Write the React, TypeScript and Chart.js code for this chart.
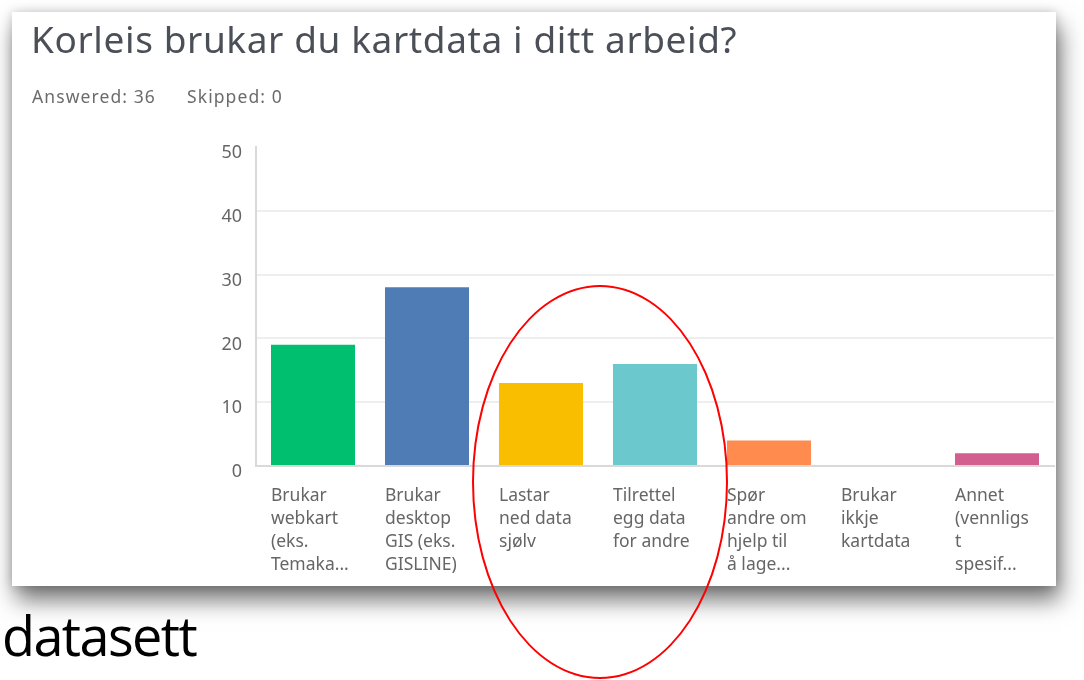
import React, { useEffect, useRef } from "react";
import { Chart, registerables } from "chart.js";

Chart.register(...registerables);

const categories: string[][] = [
  ["Brukar", "webkart", "(eks.", "Temaka..."],
  ["Brukar", "desktop", "GIS (eks.", "GISLINE)"],
  ["Lastar", "ned data", "sjølv"],
  ["Tilrettel", "egg data", "for andre"],
  ["Spør", "andre om", "hjelp til", "å lage..."],
  ["Brukar", "ikkje", "kartdata"],
  ["Annet", "(vennligs", "t", "spesif..."],
];
const values: number[] = [19, 28, 13, 16, 4, 0, 2];
const barColors: string[] = ["#00bf6f", "#507cb6", "#f9be00", "#6bc8cd", "#ff8b4f", "#a8b4bd", "#d25f90"];
const yTicks: number[] = [0, 10, 20, 30, 40, 50];

const TITLE = "Korleis brukar du kartdata i ditt arbeid?";
const ANSWERED = "Answered: 36";
const SKIPPED = "Skipped: 0";

export default function App() {
  const ref = useRef<HTMLCanvasElement | null>(null);
  useEffect(() => {
    if (!ref.current) return;
    const chart = new Chart(ref.current, {
      type: "bar",
      data: {
        labels: categories,
        datasets: [
          {
            data: values,
            backgroundColor: barColors,
            barPercentage: 0.737,
            categoryPercentage: 1,
          },
        ],
      },
      options: {
        animation: false,
        responsive: false,
        maintainAspectRatio: false,
        layout: { padding: { top: 135, left: 0, right: 2, bottom: 0 } },
        plugins: { legend: { display: false }, tooltip: { enabled: false } },
        scales: {
          x: {
            grid: { display: false, drawTicks: false },
            border: { display: true, color: "#d9d9d9", width: 2 },
            ticks: {
              align: "start",
              labelOffset: -42,
              padding: 19,
              maxRotation: 0,
              autoSkip: false,
              color: "#666666",
              font: { family: "'Noto Sans', sans-serif", size: 17.5, lineHeight: 1.3 },
            },
            afterFit: (s: any) => {
              s.height = 120;
              s.paddingLeft = 0;
              s.paddingRight = 0;
            },
          },
          y: {
            min: 0,
            max: 50,
            afterBuildTicks: (s: any) => {
              s.ticks = yTicks.map((v) => ({ value: v }));
            },
            grid: {
              drawTicks: false,
              lineWidth: 2,
              color: (c: any) =>
                c.tick && c.tick.value === 50 ? "rgba(0,0,0,0)" : c.tick && c.tick.value === 0 ? "#d9d9d9" : "#eeeeee",
            },
            border: { display: true, color: "#d9d9d9", width: 2 },
            ticks: {
              padding: 14,
              labelOffset: 6,
              color: "#666666",
              font: { family: "'Noto Sans', sans-serif", size: 18 },
            },
            afterFit: (s: any) => {
              s.width = 244;
              s.paddingTop = 0;
            },
          },
        },
      },
    });
    return () => chart.destroy();
  }, []);

  return (
    <div style={{ position: "absolute", left: 0, top: 0, width: 1084, height: 680, overflow: "hidden", background: "#ffffff" }}>
      <div
        style={{
          position: "absolute",
          left: 12,
          top: 12,
          width: 1044,
          height: 574,
          background: "#ffffff",
          boxShadow: "0 0 10px rgba(0,0,0,0.18), 4px 14px 22px rgba(0,0,0,0.55)",
        }}
      >
        <canvas ref={ref} width={1044} height={574} style={{ position: "absolute", left: 0, top: 0 }} />
        <div
          style={{
            position: "absolute",
            left: 19,
            top: 1,
            fontFamily: "'Noto Sans', sans-serif",
            fontSize: 37,
            letterSpacing: 0.6,
            color: "#4b5058",
            whiteSpace: "nowrap",
          }}
        >
          {TITLE}
        </div>
        <div
          style={{
            position: "absolute",
            left: 20,
            top: 72,
            fontFamily: "'Noto Sans', sans-serif",
            fontSize: 17.5,
            letterSpacing: 1.1,
            color: "#6b6b6b",
            whiteSpace: "nowrap",
          }}
        >
          <span>{ANSWERED}</span>
          <span style={{ marginLeft: 31 }}>{SKIPPED}</span>
        </div>
      </div>
      <div
        style={{
          position: "absolute",
          left: 2,
          top: 598,
          fontFamily: "'Open Sans', sans-serif",
          fontSize: 54,
          letterSpacing: -1.6,
          color: "#000000",
          whiteSpace: "nowrap",
        }}
      >
        datasett
      </div>
      <div
        style={{
          position: "absolute",
          left: 472,
          top: 285,
          width: 256,
          height: 394,
          boxSizing: "border-box",
          border: "2.5px solid #ff0000",
          borderRadius: "50%",
        }}
      />
    </div>
  );
}
